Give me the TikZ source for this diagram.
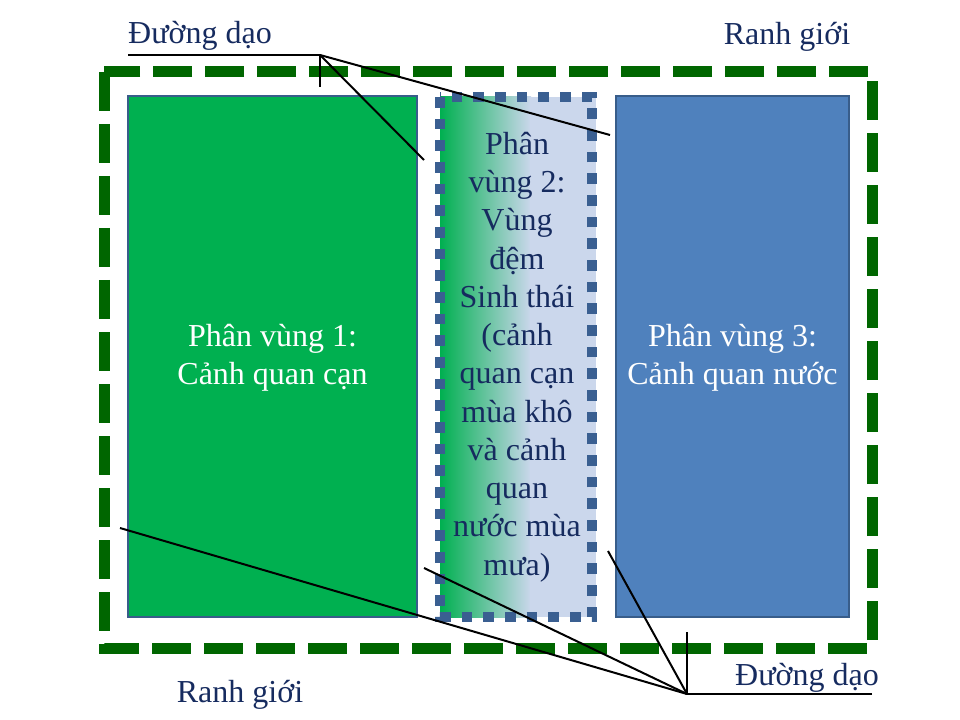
\documentclass[tikz,border=0pt]{standalone}
\usepackage{fontspec}
\setmainfont{Liberation Serif}
\definecolor{pathgreen}{RGB}{0,102,0}
\definecolor{landgreen}{RGB}{0,176,80}
\definecolor{waterblue}{RGB}{79,129,189}
\definecolor{edgeblue}{RGB}{56,93,138}
\definecolor{dotblue}{RGB}{58,95,145}
\definecolor{bufferblue}{RGB}{203,215,236}
\definecolor{labelnavy}{RGB}{22,43,95}
\tikzset{every picture/.style={line width=0.75pt}}
\tikzset{
	zone text/.style={font=\fontsize{24}{28.7}\selectfont, align=center},
	label text/.style={zone text, text=labelnavy},
	callout/.style={black, line width=1.5pt}}

\begin{document}
\begin{tikzpicture}[x=0.75pt,y=0.75pt,yscale=-1,xscale=1]
	\useasboundingbox (0,0) rectangle (960,720);

	%Shape: Boundary (dashed frame)
	\draw [pathgreen, line width=8.25pt, dash pattern=on 29pt off 10pt] (104,72) rectangle (872,648);
	%Shape: Zone 1
	\draw [edgeblue, line width=1.5pt, fill=landgreen] (128,96) rectangle (417,617);
	%Shape: Zone 3
	\draw [edgeblue, line width=1.5pt, fill=waterblue] (616,96) rectangle (849,617);
	%Shape: Zone 2 (buffer, gradient)
	\shade [left color=landgreen, right color=bufferblue] (440,97) rectangle (531,617);
	\fill [bufferblue] (530,97) rectangle (596,617);
	\draw [dotblue, line width=7.5pt, dash pattern=on 8pt off 8.25pt] (440,97) rectangle (592,617);

	% Text Node
	\node [zone text, text=white] (zoneLand) at (272.5,358) {Phân vùng 1:\\Cảnh quan cạn};
	% Text Node
	\node [zone text, text=white] (zoneWater) at (732.5,358) {Phân vùng 3:\\Cảnh quan nước};
	% Text Node
	\node [label text] (zoneBuffer) at (517,357) {Phân\\vùng 2:\\Vùng\\đệm\\Sinh thái\\(cảnh\\quan cạn\\mùa khô\\và cảnh\\quan\\nước mùa\\mưa)};
	% Text Node
	\node [label text] (walkTop) at (200,36) {Đường dạo};
	% Text Node
	\node [label text] (edgeTop) at (787,37) {Ranh giới};
	% Text Node
	\node [label text] (walkBot) at (807,678) {Đường dạo};
	% Text Node
	\node [label text] (edgeBot) at (240,695) {Ranh giới};

	% callout ends
	\coordinate (topJ) at (320,55);
	\coordinate (topL) at (128,55);
	\coordinate (topTick) at (320,87);
	\coordinate (topA) at (424,160);
	\coordinate (topB) at (610,135);
	\coordinate (botJ) at (687,694);
	\coordinate (botR) at (872,694);
	\coordinate (botTick) at (687,632);
	\coordinate (botA) at (120,528);
	\coordinate (botB) at (424,568);
	\coordinate (botC) at (608,551);

	% Connectors
	\draw [callout] (topL) -- (topJ) -- (topTick);
	\draw [callout] (topJ) -- (topA);
	\draw [callout] (topJ) -- (topB);
	\draw [callout] (botR) -- (botJ) -- (botTick);
	\draw [callout] (botJ) -- (botA);
	\draw [callout] (botJ) -- (botB);
	\draw [callout] (botJ) -- (botC);
\end{tikzpicture}
\end{document}
